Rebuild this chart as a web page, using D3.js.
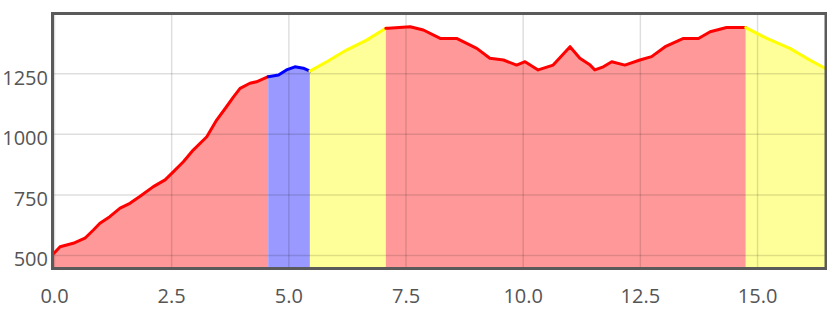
<!DOCTYPE html>
<html>
<head>
<meta charset="utf-8">
<script src="https://cdn.jsdelivr.net/npm/d3@7"></script>
<style>
  body { margin: 0; background: #fff; }
  svg text { font-family: "Open Sans", sans-serif; }
</style>
</head>
<body>
<svg id="chart"></svg>
<script>
// distance (km) and elevation (m)
const distance = [0, 0.13, 0.41, 0.66, 0.84, 0.98, 1.19, 1.41, 1.62, 1.83, 2.12, 2.37, 2.55, 2.76, 2.97,
  3.26, 3.47, 3.68, 3.83, 3.97, 4.18, 4.32, 4.57, 4.79, 4.96, 5.14, 5.32, 5.46, 5.82, 6.24, 6.67, 7.08,
  7.13, 7.6, 7.88, 8.24, 8.59, 9.02, 9.3, 9.59, 9.87, 10.05, 10.33, 10.65, 11.01, 11.22, 11.44, 11.54,
  11.72, 11.9, 12.18, 12.5, 12.75, 13.04, 13.43, 13.75, 14.0, 14.35, 14.76, 15.21, 15.7, 16.06, 16.45];
const elevation = [507, 534, 548, 569, 603, 631, 658, 693, 713, 741, 782, 810, 844, 885, 933,
  988, 1057, 1112, 1153, 1188, 1209, 1215, 1236, 1243, 1264, 1277, 1271, 1259, 1298, 1346, 1387, 1436,
  1436, 1442, 1429, 1394, 1394, 1353, 1312, 1305, 1284, 1298, 1264, 1284, 1360, 1312, 1284, 1264,
  1277, 1298, 1284, 1305, 1319, 1360, 1394, 1394, 1422, 1439, 1439, 1394, 1353, 1312, 1271];

// coloured stretches: from km, to km, kind
const segStart = [0, 4.57, 5.46, 7.08, 14.76];
const segEnd = [4.57, 5.46, 7.08, 14.76, 16.45];
const segKind = ["red", "blue", "yellow", "red", "yellow"];

const xTicks = [0, 2.5, 5, 7.5, 10, 12.5, 15];
const yTicks = [500, 750, 1000, 1250];

const lineColor = { red: "#ff0000", blue: "#0000ff", yellow: "#ffff00" };
const fillColor = { red: "#ff9999", blue: "#9999ff", yellow: "#ffff99" };

const width = 827, height = 309;
const marginLeft = 54, plotRight = 825, marginTop = 14, plotBottom = 268;

const svg = d3.select("#chart").attr("width", width).attr("height", height);

const x = d3.scaleLinear().domain([0, 16.45]).range([marginLeft, plotRight]);
const y = d3.scaleLinear().domain([446, 1495]).range([plotBottom, marginTop]);

const points = distance.map((d, i) => ({ d: d, e: elevation[i] }));

const area = d3.area().x(p => x(p.d)).y0(plotBottom).y1(p => y(p.e));
const line = d3.line().x(p => x(p.d)).y(p => y(p.e));

const segs = segStart.map((s, i) => ({
  kind: segKind[i],
  pts: points.filter(p => p.d >= s - 1e-9 && p.d <= segEnd[i] + 1e-9)
}));

// fills
svg.append("g").selectAll("path").data(segs).join("path")
  .attr("d", s => area(s.pts))
  .attr("fill", s => fillColor[s.kind]);

// grid
svg.append("g")
  .attr("transform", `translate(0,${plotBottom})`)
  .call(d3.axisBottom(x).tickValues(xTicks).tickSize(-(plotBottom - marginTop)).tickFormat(""))
  .call(g => g.select(".domain").remove())
  .call(g => g.selectAll("line").attr("stroke", "rgba(0,0,0,0.13)").attr("stroke-width", 1.5));

svg.append("g")
  .attr("transform", `translate(${marginLeft},0)`)
  .call(d3.axisLeft(y).tickValues(yTicks).tickSize(-(plotRight - marginLeft)).tickFormat(""))
  .call(g => g.select(".domain").remove())
  .call(g => g.selectAll("line").attr("stroke", "rgba(0,0,0,0.13)").attr("stroke-width", 1.5));

// profile line
svg.append("g").selectAll("path").data(segs).join("path")
  .attr("d", s => line(s.pts))
  .attr("fill", "none")
  .attr("stroke", s => lineColor[s.kind])
  .attr("stroke-width", 3)
  .attr("stroke-linejoin", "round")
  .attr("stroke-linecap", "round");

// frame
svg.append("rect")
  .attr("x", 52.5).attr("y", 13.5)
  .attr("width", 826 - 52.5).attr("height", 268.5 - 13.5)
  .attr("fill", "none")
  .attr("stroke", "#5a5a5a")
  .attr("stroke-width", 3);

// labels
svg.append("g")
  .attr("transform", `translate(0,${plotBottom})`)
  .call(d3.axisBottom(x).tickValues(xTicks).tickSize(0).tickPadding(0).tickFormat(d3.format(".1f")))
  .call(g => g.select(".domain").remove())
  .call(g => g.selectAll("text")
    .attr("y", 35).attr("dy", null)
    .attr("fill", "#555").attr("font-size", 20));

svg.append("g")
  .attr("transform", "translate(48,0)")
  .call(d3.axisLeft(y).tickValues(yTicks).tickSize(0).tickPadding(0).tickFormat(d3.format("d")))
  .call(g => g.select(".domain").remove())
  .call(g => g.selectAll("text")
    .attr("x", 0).attr("dy", "0.55em")
    .attr("fill", "#555").attr("font-size", 20));
</script>
</body>
</html>
